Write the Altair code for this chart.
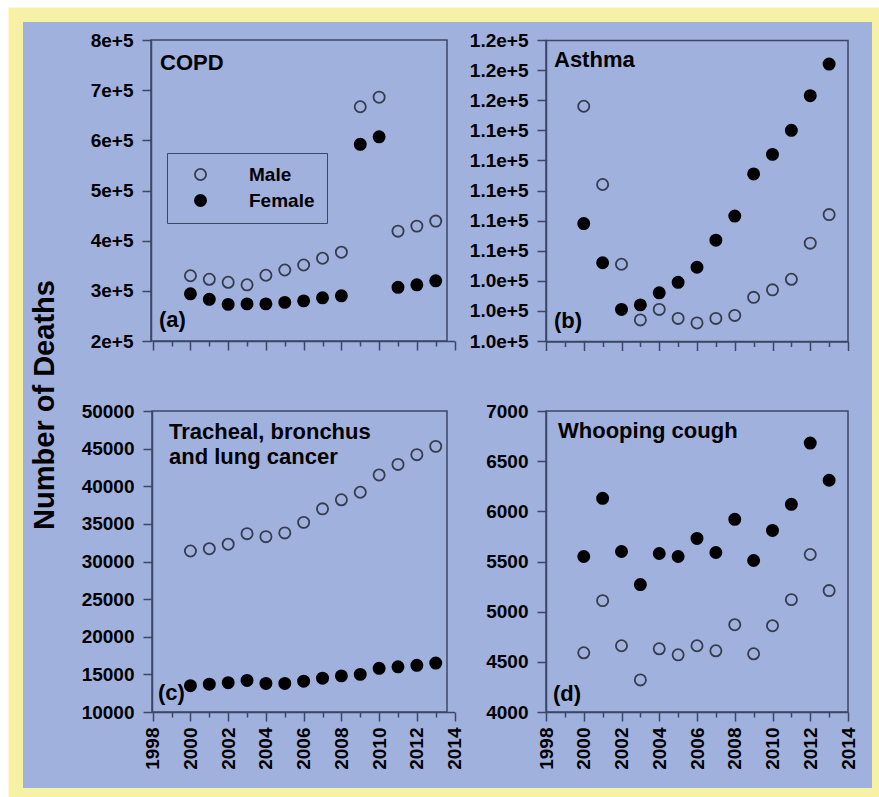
import altair as alt
import pandas as pd

# ---------------- data ----------------
years = list(range(2000, 2014))
tick_years = list(range(1998, 2015))

copd_male = [330000, 323000, 317000, 312000, 331000, 341500, 351500, 365000, 377000, 667000, 686000, 419000, 429000, 439000]
copd_female = [294000, 283000, 273000, 274000, 274000, 277000, 280000, 286000, 290000, 592000, 607000, 307000, 312000, 320000]
asthma_male = [115600, 110400, 105100, 101400, 102100, 101500, 101200, 101500, 101700, 102900, 103400, 104100, 106500, 108400]
asthma_female = [107800, 105200, 102100, 102400, 103200, 103900, 104900, 106700, 108300, 111100, 112400, 114000, 116300, 118400]
lung_male = [31400, 31700, 32300, 33700, 33300, 33800, 35200, 37000, 38200, 39200, 41500, 42900, 44200, 45300]
lung_female = [13500, 13700, 13900, 14200, 13800, 13800, 14100, 14500, 14800, 15000, 15800, 16000, 16200, 16500]
wc_male = [4590, 5110, 4660, 4320, 4630, 4570, 4660, 4610, 4870, 4580, 4860, 5120, 5570, 5210]
wc_female = [5550, 6130, 5600, 5270, 5580, 5550, 5730, 5590, 5920, 5510, 5810, 6070, 6680, 6310]

copd_ticks = [200000, 300000, 400000, 500000, 600000, 700000, 800000]
asthma_ticks = list(range(100000, 120001, 2000))
lung_ticks = list(range(10000, 50001, 5000))
wc_ticks = list(range(4000, 7001, 500))

sexes = ["Male", "Female"]

rows = []
for panel, male, female in [("COPD", copd_male, copd_female),
                            ("Asthma", asthma_male, asthma_female),
                            ("Lung", lung_male, lung_female),
                            ("Whooping", wc_male, wc_female)]:
    for yr, m, f in zip(years, male, female):
        rows.append({"panel": panel, "year": yr, "sex": "Male", "deaths": m})
        rows.append({"panel": panel, "year": yr, "sex": "Female", "deaths": f})
df = pd.DataFrame(rows)
dummy = pd.DataFrame({"a": [0]})

# ---------------- style / layout ----------------
FONT = "Liberation Sans"
YELLOW = "#f7f1a6"
BLUE = "#a1b1dd"
FRAME = "#3b4766"
OPEN = "#363c50"
TICKFS = 19

PX, PY = 8, 7
W, H = 879 - PX, 797 - PY


def vx(x):
    return x - PX


def vy(y):
    return y - PY


legend = alt.Legend(
    orient="none", legendX=vx(167), legendY=vy(153), title=None, padding=12,
    strokeColor=FRAME, labelFont=FONT, labelFontSize=19, labelFontWeight="bold",
    labelColor="black", symbolType="circle", symbolSize=125, symbolStrokeWidth=1.8,
    symbolOffset=12, labelOffset=39, rowPadding=6, zindex=1,
)


def make_panel(name, frame, xr, yr, ydom, yvals, yfmt, show_xlabels):
    fx0, fy0, fx1, fy1 = frame
    xaxis = alt.Axis(
        orient="bottom", offset=vy(fy1) - H, values=tick_years, format="d",
        labels=show_xlabels, labelExpr="datum.value % 2 === 0 ? datum.label : ''",
        labelAngle=-90, labelFont=FONT, labelFontSize=TICKFS, labelFontWeight="bold",
        labelColor="black", labelPadding=6, labelFlush=False, labelOverlap=False,
        tickSize={"condition": {"test": "datum.value % 2 !== 0", "value": 5}, "value": 9},
        tickColor=FRAME, tickWidth=1.5, domainColor=FRAME, domainWidth=1.5,
        grid=False, title=None, zindex=1,
    )
    yaxis = alt.Axis(
        orient="left", offset=-vx(fx0), values=yvals, format=yfmt,
        labelFont=FONT, labelFontSize=TICKFS, labelFontWeight="bold", labelColor="black",
        labelPadding=9, labelFlush=False, labelOverlap=False, tickSize=9,
        tickColor=FRAME, tickWidth=1.5, domainColor=FRAME, domainWidth=1.5,
        grid=False, title=None, zindex=1,
    )
    points = alt.Chart(df).transform_filter(alt.datum.panel == name).mark_circle(
        size=125, strokeWidth=1.8, opacity=1
    ).encode(
        x=alt.X("year:Q", scale=alt.Scale(domain=[1998, 2014], range=[vx(xr[0]), vx(xr[1])],
                                          nice=False, zero=False), axis=xaxis),
        y=alt.Y("deaths:Q", scale=alt.Scale(domain=ydom, range=[vy(yr[0]), vy(yr[1])],
                                            nice=False, zero=False), axis=yaxis),
        fill=alt.Fill("sex:N", scale=alt.Scale(domain=sexes, range=["transparent", "#000000"]),
                      legend=legend),
        stroke=alt.Stroke("sex:N", scale=alt.Scale(domain=sexes, range=[OPEN, "#000000"]),
                          legend=legend),
    )
    box = alt.Chart(dummy).mark_rect(fill="transparent", stroke=FRAME, strokeWidth=1.5).encode(
        x=alt.value(vx(fx0)), x2=alt.value(vx(fx1)), y=alt.value(vy(fy0)), y2=alt.value(vy(fy1))
    )
    return alt.layer(box, points)


def txt(s, x, y, size=22, angle=0, align="left", baseline="alphabetic"):
    return alt.Chart(dummy).mark_text(
        text=s, font=FONT, fontSize=size, fontWeight="bold", color="black",
        align=align, baseline=baseline, angle=angle,
    ).encode(x=alt.value(vx(x)), y=alt.value(vy(y)))


bg = alt.Chart(dummy).mark_rect(color=BLUE).encode(
    x=alt.value(15), x2=alt.value(864), y=alt.value(15), y2=alt.value(781)
)

pA = make_panel("COPD", (151, 40, 447, 341), (152.7, 454.6), (341, 40),
                [200000, 800000], copd_ticks, ".0e", False)
pB = make_panel("Asthma", (546, 40.5, 848, 341.5), (546, 848), (341, 40),
                [100000, 120000], asthma_ticks, ".1e", False)
pC = make_panel("Lung", (152, 411, 447, 712), (152.7, 454.6), (712, 411),
                [10000, 50000], lung_ticks, "d", True)
pD = make_panel("Whooping", (546, 411, 848, 712), (546, 848), (712, 411),
                [4000, 7000], wc_ticks, "d", True)

texts = [
    txt("COPD", 160, 70),
    txt("Asthma", 554, 67),
    txt("Tracheal, bronchus", 169, 439),
    txt("and lung cancer", 169, 464),
    txt("Whooping cough", 558, 438),
    txt("(a)", 159, 327),
    txt("(b)", 554, 328),
    txt("(c)", 158, 700),
    txt("(d)", 553, 701),
    txt("Number of Deaths", 45, 405, size=29, angle=270, align="center", baseline="middle"),
]

chart = alt.layer(bg, pA, pB, pC, pD, *texts).resolve_scale(
    x="independent", y="independent"
).resolve_axis(
    x="independent", y="independent"
).properties(
    width=W, height=H,
    padding={"left": PX, "top": PY, "right": 0, "bottom": 0},
    autosize=alt.AutoSizeParams(type="none"),
    background="white",
).configure_view(fill=YELLOW, stroke="transparent")

chart.save("out.html", embed_options={"renderer": "svg", "actions": False})
